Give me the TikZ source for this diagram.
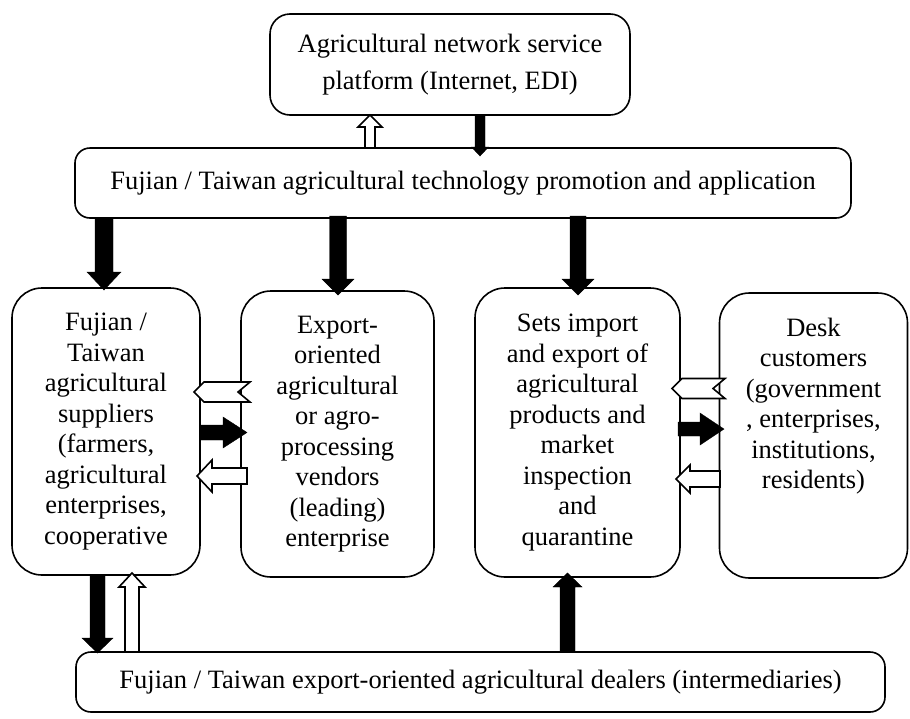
\documentclass[tikz,border=0pt]{standalone}
\usepackage{fontspec}
\setmainfont{Liberation Serif}
% vertical block arrow: [style]{x}{y start}{y tip}{shaft half}{head half}{head length}
\newcommand{\myvarrow}[7][]{%
  \pgfmathsetmacro{\myhb}{#4 - sign(#4-#3)*#7}%
  \draw[#1] ({#2-#5},{#3}) -- ({#2-#5},{\myhb}) -- ({#2-#6},{\myhb}) -- ({#2},{#4})
    -- ({#2+#6},{\myhb}) -- ({#2+#5},{\myhb}) -- ({#2+#5},{#3}) -- cycle;}
% horizontal block arrow: [style]{y}{x start}{x tip}{shaft half}{head half}{head length}
\newcommand{\myharrow}[7][]{%
  \pgfmathsetmacro{\myhb}{#4 - sign(#4-#3)*#7}%
  \draw[#1] ({#3},{#2-#5}) -- ({\myhb},{#2-#5}) -- ({\myhb},{#2-#6}) -- ({#4},{#2})
    -- ({\myhb},{#2+#6}) -- ({\myhb},{#2+#5}) -- ({#3},{#2+#5}) -- cycle;}
% notched chevron pointing left: [style]{y}{x tip}{x tail}{half}{head length}{notch}
\newcommand{\mychevron}[7][]{%
  \draw[#1] ({#3},{#2}) -- ({#3+#6},{#2-#5}) -- ({#4},{#2-#5}) -- ({#4-#7},{#2})
    -- ({#4},{#2+#5}) -- ({#3+#6},{#2+#5}) -- cycle;}
\begin{document}
\begin{tikzpicture}[x=1pt,y=-1pt,
  box/.style={draw, line width=1.6pt, align=center, inner sep=0pt,
    font=\fontsize{26.5}{30.5}\selectfont},
  txt/.style={align=center, inner sep=0pt, font=\fontsize{26.5}{30.5}\selectfont},
  hollow/.style={draw, fill=white, line width=1.6pt, line join=miter},
  solid/.style={fill=black, draw=black, line width=0.4pt}]
\useasboundingbox (0,0) rectangle (910,718);

% boxes
\node[box, rounded corners=20pt, minimum width=360pt, minimum height=101pt,
  font=\fontsize{26.5}{37}\selectfont] (top) at (450,64.5)
  {Agricultural network service\\platform (Internet, EDI)};
\node[box, rounded corners=15pt, minimum width=776pt, minimum height=70pt] (tech) at (463,183)
  {Fujian / Taiwan agricultural technology promotion and application};
\node[box, rounded corners=30pt, minimum width=188pt, minimum height=287pt] (sup) at (106,431.5)
  {Fujian /\\Taiwan\\agricultural\\suppliers\\(farmers,\\agricultural\\enterprises,\\cooperative};
\node[box, rounded corners=30pt, minimum width=193pt, minimum height=286pt] (exp) at (337.5,434)
  {Export-\\oriented\\agricultural\\or agro-\\processing\\vendors\\(leading)\\enterprise};
\node[box, rounded corners=30pt, minimum width=205pt, minimum height=289pt] (sets) at (577.5,432.5)
  {Sets import\\and export of\\agricultural\\products and\\market\\inspection\\and\\quarantine};
\node[box, rounded corners=30pt, minimum width=188pt, minimum height=285pt] (desk) at (813.5,435.5) {};
\node[txt] (desktext) at (813.5,406)
  {Desk\\customers\\(government\\, enterprises,\\institutions,\\residents)};
\node[box, rounded corners=15pt, minimum width=809pt, minimum height=60pt] (deal) at (480.5,682)
  {Fujian / Taiwan export-oriented agricultural dealers (intermediaries)};

% top <-> tech
\myvarrow[hollow]{370}{148}{115}{5}{12}{12}
\myvarrow[solid]{480}{115}{156}{5}{8.5}{9}

% tech -> row
\myvarrow[solid]{104}{218}{290}{9}{17}{18}
\myvarrow[solid]{338}{216}{295}{8.5}{16}{16}
\myvarrow[solid]{578}{216}{295}{8}{16}{16}

% between suppliers and exporters
\mychevron[hollow]{392}{194}{250}{10}{10}{12}
\myharrow[solid]{432.5}{200}{247}{7.5}{15.5}{24}
\myharrow[hollow]{476}{247}{197}{8}{16}{15}

% between sets and desk
\mychevron[hollow]{388.5}{672}{725}{10}{10}{12}
\myharrow[solid]{429}{678}{724}{7}{16}{24}
\myharrow[hollow]{479}{720}{676}{8}{14}{14}

% bottom
\myvarrow[solid]{97.5}{576}{653}{7.5}{15.5}{15}
\myvarrow[hollow]{132}{652}{573}{7}{13}{14}
\myvarrow[solid]{567.5}{652}{573}{7.5}{14.5}{14}
\end{tikzpicture}
\end{document}
